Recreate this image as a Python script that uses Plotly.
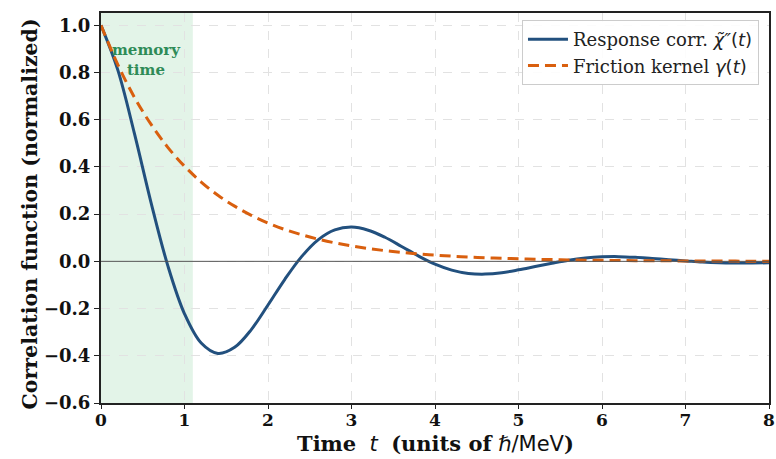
import plotly.graph_objects as go

t = [0.0, 0.2, 0.4, 0.6, 0.8, 1.0, 1.2, 1.4, 1.6, 1.8, 2.0, 2.2, 2.4, 2.6, 2.8, 3.0,
     3.2, 3.4, 3.6, 3.8, 4.0, 4.2, 4.4, 4.6, 4.8, 5.0, 5.2, 5.4, 5.6, 5.8, 6.0,
     6.2, 6.4, 6.6, 6.8, 7.0, 7.2, 7.4, 7.6, 7.8, 8.0]
response = [1.000, 0.812, 0.542, 0.248, -0.018, -0.222, -0.346, -0.390, -0.364, -0.289,
            -0.185, -0.077, 0.019, 0.091, 0.133, 0.145, 0.132, 0.102, 0.063, 0.023,
            -0.012, -0.037, -0.051, -0.054, -0.048, -0.036, -0.022, -0.008, 0.005, 0.014,
            0.019, 0.020, 0.017, 0.012, 0.007, 0.002, -0.003, -0.006, -0.007, -0.007, -0.006]
friction = [1.000, 0.834, 0.695, 0.580, 0.483, 0.403, 0.336, 0.280, 0.234, 0.195,
            0.162, 0.135, 0.113, 0.094, 0.0785, 0.0655, 0.0546, 0.0455, 0.0380, 0.0317,
            0.0264, 0.0220, 0.0184, 0.0153, 0.0128, 0.0106, 0.0089, 0.0074, 0.0062, 0.0051,
            0.0043, 0.0036, 0.0030, 0.0025, 0.0021, 0.0017, 0.0014, 0.0012, 0.0010, 0.0008, 0.0007]
memory_time = 1.1
x_ticks = [0, 1, 2, 3, 4, 5, 6, 7, 8]
y_ticks = [-0.6, -0.4, -0.2, 0.0, 0.2, 0.4, 0.6, 0.8, 1.0]

SERIF = "DejaVu Serif"

fig = go.Figure()

fig.add_vrect(x0=0, x1=memory_time, fillcolor="#d9f0e0", opacity=0.75,
              line_width=0, layer="below")
fig.add_hline(y=0, line=dict(color="#555555", width=1))

fig.add_trace(go.Scatter(
    x=t, y=response, mode="lines", line_shape="spline",
    line=dict(color="#22507e", width=3),
    name='Response corr. <span style="font-family:DejaVu Sans"><i>χ̃″</i>(<i>t</i>)</span>'))
fig.add_trace(go.Scatter(
    x=t, y=friction, mode="lines", line_shape="spline",
    line=dict(color="#d95f0e", width=3, dash="11px,6px"),
    name='Friction kernel <span style="font-family:DejaVu Sans"><i>γ</i>(<i>t</i>)</span>'))

fig.add_annotation(x=0.55, y=0.855, xref="x", yref="y",
                   text="<b>memory<br>time</b>", showarrow=False,
                   font=dict(family=SERIF, size=15, color="#2e8b57"),
                   align="center")

# axis titles as paper annotations for exact placement
fig.add_annotation(x=0.5, y=-0.105, xref="paper", yref="paper",
                   xanchor="center", yanchor="middle", showarrow=False,
                   text='<b>Time</b>  <span style="font-family:DejaVu Sans"><i>t</i></span>  <b>(units of</b> <span style="font-family:DejaVu Sans">ℏ/MeV</span><b>)</b>',
                   font=dict(family=SERIF, size=21, color="#111111"))
fig.add_annotation(x=-0.1063, y=0.486, xref="paper", yref="paper",
                   xanchor="center", yanchor="middle", showarrow=False, textangle=-90,
                   text="<b>Correlation function (normalized)</b>",
                   font=dict(family=SERIF, size=20.5, color="#111111"))

fig.update_layout(
    width=776, height=459,
    margin=dict(l=101, r=7, t=13, b=56),
    paper_bgcolor="white", plot_bgcolor="white",
    font=dict(family=SERIF, color="black"),
    showlegend=True,
    legend=dict(x=0.985, y=0.982, xanchor="right", yanchor="top",
                bgcolor="rgba(255,255,255,0.9)", bordercolor="#cccccc", borderwidth=1,
                font=dict(family=SERIF, size=18, color="#222222"),
                itemwidth=40, tracegroupgap=0),
    xaxis=dict(range=[0, 8], tickvals=x_ticks, ticktext=[f"<b>{v}</b>" for v in x_ticks],
               showline=True, linecolor="#222222", linewidth=2, mirror=True,
               ticks="outside", ticklen=4, tickwidth=1.2, tickcolor="#222222",
               ticklabelstandoff=-3,
               tickfont=dict(family=SERIF, size=17, color="#111111"),
               showgrid=True, gridcolor="#e2e2e2", griddash="dash", gridwidth=1,
               zeroline=False, automargin=False),
    yaxis=dict(range=[-0.6, 1.052], tickvals=y_ticks,
               ticktext=[f"<b>{v:.1f}</b>".replace("-", "−") for v in y_ticks],
               showline=True, linecolor="#222222", linewidth=2, mirror=True,
               ticks="outside", ticklen=5, tickwidth=1.2, tickcolor="#222222",
               tickfont=dict(family=SERIF, size=18, color="#111111"),
               showgrid=True, gridcolor="#e2e2e2", griddash="dash", gridwidth=1,
               zeroline=False, automargin=False),
)

fig.write_html("out.html")
